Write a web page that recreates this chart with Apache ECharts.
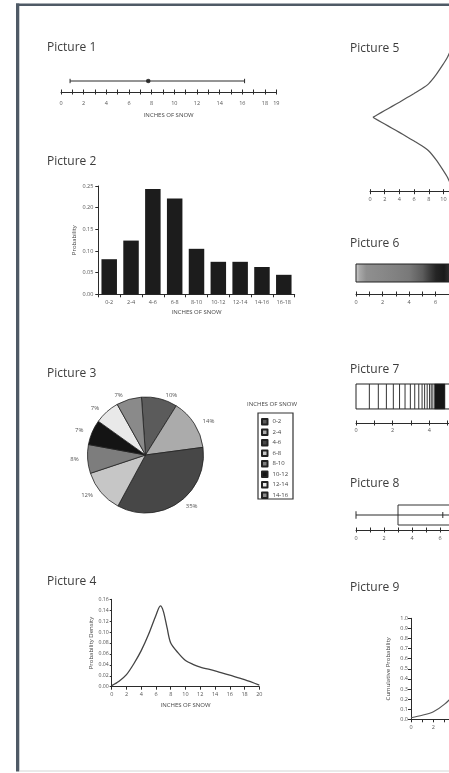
<!DOCTYPE html>
<html><head><meta charset="utf-8">
<script src="https://cdn.jsdelivr.net/npm/echarts@6/dist/echarts.min.js"></script>
<style>html,body{margin:0;padding:0;background:#fff}#c{width:449px;height:773px}</style>
</head><body><div id="c"></div>
<script>
// ---------- DATA ----------
// Picture 1 : range of snowfall on a number line
const p1TickLabels = [0,2,4,6,8,10,12,14,16,18,19];
const p1Range = [0.8, 7.7, 16.2];            // low, centre, high
// Picture 2 : probability histogram
const p2Categories = ['0-2','2-4','4-6','6-8','8-10','10-12','12-14','14-16','16-18'];
const p2Probability = [0.081,0.124,0.243,0.221,0.105,0.075,0.075,0.063,0.045];
// Picture 3 : pie
const p3Categories = ['0-2','2-4','4-6','6-8','8-10','10-12','12-14','14-16'];
const p3Percent = [10,14,35,12,8,7,7,7];
// Picture 4 : probability density
const p4Inches  = [0,1,2,3,4,5,6,6.6,7,7.5,8,9,10,11,12,14,16,18,20];
const p4Density = [0.002,0.01,0.022,0.042,0.066,0.096,0.131,0.148,0.138,0.108,0.08,0.062,0.048,0.041,0.036,0.029,0.021,0.013,0.003];
// Picture 5 : violin outline (half width)
const p5Inches    = [0.4,1,2,3,4,5,6,7,8,9,10,10.5,11];
const p5HalfWidth = [0,0.052,0.136,0.22,0.304,0.392,0.48,0.57,0.68,0.86,1.08,1.2,1.36];
const p5TickLabels = [0,2,4,6,8,10];
// Picture 6 : shaded strip (darkness 0..1)
const p6Inches = [0,0.3,0.8,2,3,4,5,5.5,6,6.6,7,7.5];
const p6Shade  = [0.1,0.3,0.42,0.45,0.48,0.52,0.65,0.78,0.9,0.95,0.85,0.75];
const p6TickLabels = [0,2,4,6];
// Picture 7 : quantile strip
const p7StripRange = [0, 6];
const p7Quantiles = [0.73,1.22,1.66,2.04,2.38,2.68,2.97,3.21,3.43,3.61,3.75,3.89,4.02,4.11,4.2];
const p7DenseBand = [4.29, 4.86];
const p7TickLabels = [0,2,4,6];
// Picture 8 : box plot  (min, q1, median, q3, max)
const p8Box = [0, 3, 6.2, 9, 12];
const p8TickLabels = [0,2,4,6];
// Picture 9 : cumulative probability
const p9Inches = [0,1,2,3,4,5];
const p9Cumulative = [0.015,0.04,0.075,0.15,0.26,0.4];
const p9TickLabels = [0,2,4];

// ---------- STYLE ----------
const FONT = 'Open Sans';
const AX = '#2b2b2b', LAB = '#555';
const p3Colors = ['#5b5b5b','#ababab','#474747','#c6c6c6','#7d7d7d','#141414','#e9e9e9','#8a8a8a'];

function numberLine(gridIndex, max, interval, labels, margin, extra) {
  const base = {type:'value', gridIndex, min:0, max, interval, position:'bottom',
    splitLine:{show:false}};
  return [
    Object.assign({}, base, {
      axisLine:{show:true, onZero:false, lineStyle:{color:AX, width:1}},
      axisTick:{show:true, length:2.5, lineStyle:{color:AX}},
      axisLabel:{show:true, customValues:labels, fontSize:5.5, color:LAB, margin, fontFamily:FONT}}, extra||{}),
    Object.assign({}, base, {
      axisLine:{show:false, onZero:false},
      axisTick:{show:true, inside:true, length:2.5, lineStyle:{color:AX}},
      axisLabel:{show:false}})
  ];
}
function hiddenY(gridIndex, min, max) {
  return {type:'value', gridIndex, min, max, show:false};
}
function seg(api, x1, y1, x2, y2, style) {
  const a = api.coord([x1, y1]), b = api.coord([x2, y2]);
  return {type:'line', shape:{x1:a[0], y1:a[1], x2:b[0], y2:b[1]}, style};
}
function shadeColor(s) {
  const g = Math.round(235 - 220 * s);
  return 'rgb(' + g + ',' + g + ',' + g + ')';
}
const nameStyle = {fontSize:6, color:'#444', fontFamily:FONT};
const titleStyle = {fontSize:12, fontWeight:'normal', color:'#3c3c3c', fontFamily:FONT, lineHeight:12};
function ttl(text, x, cy) { return {text, left:x, top:cy - 6, padding:0, textStyle:titleStyle}; }

const grids = [
  {left:61,    top:70,    width:215.3, height:22},    // P1
  {left:98.3,  top:186,   width:196.4, height:108.3}, // P2
  {left:111.7, top:599.3, width:147.6, height:87.4},  // P4
  {left:370,   top:42.9,  width:147,   height:148.8}, // P5
  {left:356,   top:264,   width:132.7, height:30},    // P6
  {left:356,   top:384,   width:183,   height:39},    // P7
  {left:356,   top:505,   width:140,   height:25},    // P8
  {left:411,   top:618.3, width:112,   height:101}    // P9
].map(g => Object.assign({outerBoundsMode:'none', containLabel:false}, g));

const p1Axes = numberLine(0, 19, 1, p1TickLabels, 8,
  {name:'INCHES OF SNOW', nameLocation:'middle', nameGap:20, nameTextStyle:nameStyle});
const p5Axes = numberLine(3, 20, 2, p5TickLabels, 5);
const p6Axes = numberLine(4, 10, 1, p6TickLabels, 5);
const p7Axes = numberLine(5, 10, 1, p7TickLabels, 4.5);
const p8Axes = numberLine(6, 10, 1, p8TickLabels, 5);

const xAxes = [
  p1Axes[0], p1Axes[1],                                       // 0,1
  {type:'category', gridIndex:1, data:p2Categories, position:'bottom',       // 2
    axisLine:{show:true, onZero:false, lineStyle:{color:AX}},
    axisTick:{show:true, length:3, alignWithLabel:false, lineStyle:{color:AX}},
    axisLabel:{fontSize:5.5, color:LAB, margin:5, fontFamily:FONT, interval:0},
    name:'INCHES OF SNOW', nameLocation:'middle', nameGap:15, nameTextStyle:nameStyle},
  {type:'value', gridIndex:2, min:0, max:20, interval:2, position:'bottom',   // 3
    axisLine:{show:true, onZero:false, lineStyle:{color:AX}},
    axisTick:{show:true, length:3, lineStyle:{color:AX}},
    axisLabel:{fontSize:5.5, color:LAB, margin:5, fontFamily:FONT},
    splitLine:{show:false},
    name:'INCHES OF SNOW', nameLocation:'middle', nameGap:15.5, nameTextStyle:nameStyle},
  p5Axes[0], p5Axes[1],                                       // 4,5
  p6Axes[0], p6Axes[1],                                       // 6,7
  p7Axes[0], p7Axes[1],                                       // 8,9
  p8Axes[0], p8Axes[1],                                       // 10,11
  {type:'value', gridIndex:7, min:0, max:10, interval:1, position:'bottom',   // 12
    axisLine:{show:true, onZero:false, lineStyle:{color:AX}},
    axisTick:{show:true, length:3, lineStyle:{color:AX}},
    axisLabel:{customValues:p9TickLabels, fontSize:5.5, color:LAB, margin:5, fontFamily:FONT},
    splitLine:{show:false}}
];

const yAxes = [
  hiddenY(0, 0, 2),
  {type:'value', gridIndex:1, min:0, max:0.25, interval:0.05,
    axisLine:{show:true, lineStyle:{color:AX}},
    axisTick:{show:true, length:3, lineStyle:{color:AX}},
    axisLabel:{formatter:v => v.toFixed(2), fontSize:5.5, color:LAB, margin:5, fontFamily:FONT},
    splitLine:{show:false},
    name:'Probability', nameLocation:'middle', nameGap:21, nameTextStyle:nameStyle},
  {type:'value', gridIndex:2, min:0, max:0.16, interval:0.02,
    axisLine:{show:true, lineStyle:{color:AX}},
    axisTick:{show:true, length:2, lineStyle:{color:AX}},
    axisLabel:{formatter:v => v.toFixed(2), fontSize:5.2, color:LAB, margin:3, fontFamily:FONT},
    splitLine:{show:false},
    name:'Probability Density', nameLocation:'middle', nameGap:13, nameTextStyle:nameStyle},
  hiddenY(3, -1.5, 1.5),
  hiddenY(4, 0, 1),
  hiddenY(5, 0, 1),
  hiddenY(6, 0, 1),
  {type:'value', gridIndex:7, min:0, max:1, interval:0.1,
    axisLine:{show:true, lineStyle:{color:AX}},
    axisTick:{show:true, length:3, lineStyle:{color:AX}},
    axisLabel:{formatter:v => v.toFixed(1), fontSize:5.5, color:LAB, margin:3, fontFamily:FONT},
    splitLine:{show:false},
    name:'Cumulative Probability', nameLocation:'middle', nameGap:20, nameTextStyle:nameStyle}
];

const thin = {stroke:'#2a2a2a', lineWidth:1};

const series = [
  // Picture 1 range bar
  {type:'custom', xAxisIndex:0, yAxisIndex:0, clip:false, silent:true,
    data:[[p1Range[0], p1Range[2]]],
    renderItem:(params, api) => {
      const lo = api.value(0), hi = api.value(1);
      return {type:'group', children:[
        seg(api, lo, 1, hi, 1, thin),
        seg(api, lo, 0.8, lo, 1.2, thin),
        seg(api, hi, 0.8, hi, 1.2, thin)]};
    }},
  {type:'scatter', xAxisIndex:0, yAxisIndex:0, data:[[p1Range[1], 1]], symbolSize:4.5,
    itemStyle:{color:'#111'}, silent:true},
  // Picture 2 bars
  {type:'bar', xAxisIndex:2, yAxisIndex:1, data:p2Probability, barCategoryGap:'29%',
    itemStyle:{color:'#1c1c1c'}, silent:true},
  // Picture 3 pie
  {type:'pie', center:[145.5, 455], radius:58, startAngle:94, clockwise:true,
    avoidLabelOverlap:false, silent:true,
    data:p3Categories.map((c, i) => ({name:c, value:p3Percent[i], itemStyle:{color:p3Colors[i]}})),
    itemStyle:{borderColor:'#222', borderWidth:0.8},
    label:{show:true, position:'outside', formatter:'{c}%', fontSize:6, color:LAB, fontFamily:FONT},
    labelLine:{show:false, length:4, length2:0}},
  // Picture 4 density
  {type:'line', xAxisIndex:3, yAxisIndex:2, data:p4Inches.map((x, i) => [x, p4Density[i]]),
    smooth:0.3, showSymbol:false, symbol:'none', lineStyle:{color:'#444', width:1.3}, silent:true},
  // Picture 5 violin outline
  {type:'line', xAxisIndex:4, yAxisIndex:3, data:p5Inches.map((x, i) => [x, p5HalfWidth[i]]),
    smooth:0.25, symbol:'none', lineStyle:{color:'#555', width:1.2}, silent:true, clip:false},
  {type:'line', xAxisIndex:4, yAxisIndex:3, data:p5Inches.map((x, i) => [x, -p5HalfWidth[i]]),
    smooth:0.25, symbol:'none', lineStyle:{color:'#555', width:1.2}, silent:true, clip:false},
  // Picture 6 shaded strip
  {type:'custom', xAxisIndex:6, yAxisIndex:4, clip:false, silent:true,
    data:[[p6Inches[0], p6Inches[p6Inches.length - 1]]],
    renderItem:(params, api) => {
      const x0 = api.value(0), x1 = api.value(1);
      const a = api.coord([x0, 1]), b = api.coord([x1, 0.4]);
      const stops = p6Inches.map((v, i) => ({offset:(v - x0) / (x1 - x0), color:shadeColor(p6Shade[i])}));
      return {type:'rect', shape:{x:a[0], y:a[1], width:b[0] - a[0], height:b[1] - a[1]},
        style:{fill:new echarts.graphic.LinearGradient(0, 0, 1, 0, stops), stroke:'#222', lineWidth:1}};
    }},
  // Picture 7 quantile strip: frame, dense band, lines
  {type:'custom', xAxisIndex:8, yAxisIndex:5, clip:false, silent:true,
    data:[[p7StripRange[0], p7StripRange[1]]],
    renderItem:(params, api) => {
      const a = api.coord([api.value(0), 1]), b = api.coord([api.value(1), 0.36]);
      return {type:'rect', shape:{x:a[0], y:a[1], width:b[0] - a[0], height:b[1] - a[1]},
        style:{fill:'#fff', stroke:'#222', lineWidth:1}};
    }},
  {type:'custom', xAxisIndex:8, yAxisIndex:5, clip:false, silent:true,
    data:[[p7DenseBand[0], p7DenseBand[1]]],
    renderItem:(params, api) => {
      const a = api.coord([api.value(0), 1]), b = api.coord([api.value(1), 0.36]);
      return {type:'rect', shape:{x:a[0], y:a[1], width:b[0] - a[0], height:b[1] - a[1]},
        style:{fill:'#161616', stroke:'#222', lineWidth:0.5}};
    }},
  {type:'custom', xAxisIndex:8, yAxisIndex:5, clip:false, silent:true,
    data:p7Quantiles.map(q => [q]),
    renderItem:(params, api) => seg(api, api.value(0), 0.36, api.value(0), 1, {stroke:'#333', lineWidth:1})},
  // Picture 8 box plot
  {type:'custom', xAxisIndex:10, yAxisIndex:6, clip:false, silent:true,
    data:[p8Box],
    renderItem:(params, api) => {
      const mn = api.value(0), q1 = api.value(1), md = api.value(2), q3 = api.value(3), mx = api.value(4);
      const a = api.coord([q1, 1]), b = api.coord([q3, 0.2]);
      return {type:'group', children:[
        {type:'rect', shape:{x:a[0], y:a[1], width:b[0] - a[0], height:b[1] - a[1]},
          style:{fill:'#fff', stroke:'#333', lineWidth:1}},
        seg(api, mn, 0.6, mx, 0.6, thin),
        seg(api, mn, 0.45, mn, 0.75, thin),
        seg(api, md, 0.48, md, 0.72, thin)]};
    }},
  // Picture 9 cumulative
  {type:'line', xAxisIndex:12, yAxisIndex:7, data:p9Inches.map((x, i) => [x, p9Cumulative[i]]),
    smooth:0.3, symbol:'none', lineStyle:{color:'#555', width:1.2}, silent:true, clip:false}
];

const option = {
  animation:false,
  backgroundColor:'#fff',
  textStyle:{fontFamily:FONT},
  title:[
    ttl('Picture 1', 47, 47.5), ttl('Picture 2', 47, 162), ttl('Picture 3', 47, 373.3),
    ttl('Picture 4', 47, 582), ttl('Picture 5', 350, 48.5), ttl('Picture 6', 350, 243.5),
    ttl('Picture 7', 350, 370), ttl('Picture 8', 350, 484), ttl('Picture 9', 350, 588)
  ],
  legend:{data:p3Categories, orient:'vertical', left:261, top:418, itemWidth:5.5, itemHeight:5.5,
    itemGap:3, padding:0, icon:'rect', selectedMode:false,
    textStyle:{fontSize:6, color:'#444', lineHeight:6, fontFamily:FONT}},
  grid:grids,
  xAxis:xAxes,
  yAxis:yAxes,
  series:series,
  graphic:[
    {type:'rect', shape:{x:16, y:3.5, width:440, height:2.5}, style:{fill:'#4f5a66'}, silent:true},
    {type:'rect', shape:{x:16, y:3.5, width:3.3, height:768}, style:{fill:'#4f5a66'}, silent:true},
    {type:'line', shape:{x1:19, y1:771, x2:449, y2:771}, style:{stroke:'#d5d5d5', lineWidth:1}, silent:true},
    {type:'rect', shape:{x:258, y:413, width:35, height:86}, style:{fill:'none', stroke:'#333', lineWidth:1.2}, silent:true},
    {type:'text', x:272, y:404, style:{text:'INCHES OF SNOW', fontSize:6, fontFamily:FONT, fill:'#444', align:'center', verticalAlign:'middle'}, silent:true}
  ]
};
const chart = echarts.init(document.getElementById('c'));
chart.setOption(option);
</script></body></html>
